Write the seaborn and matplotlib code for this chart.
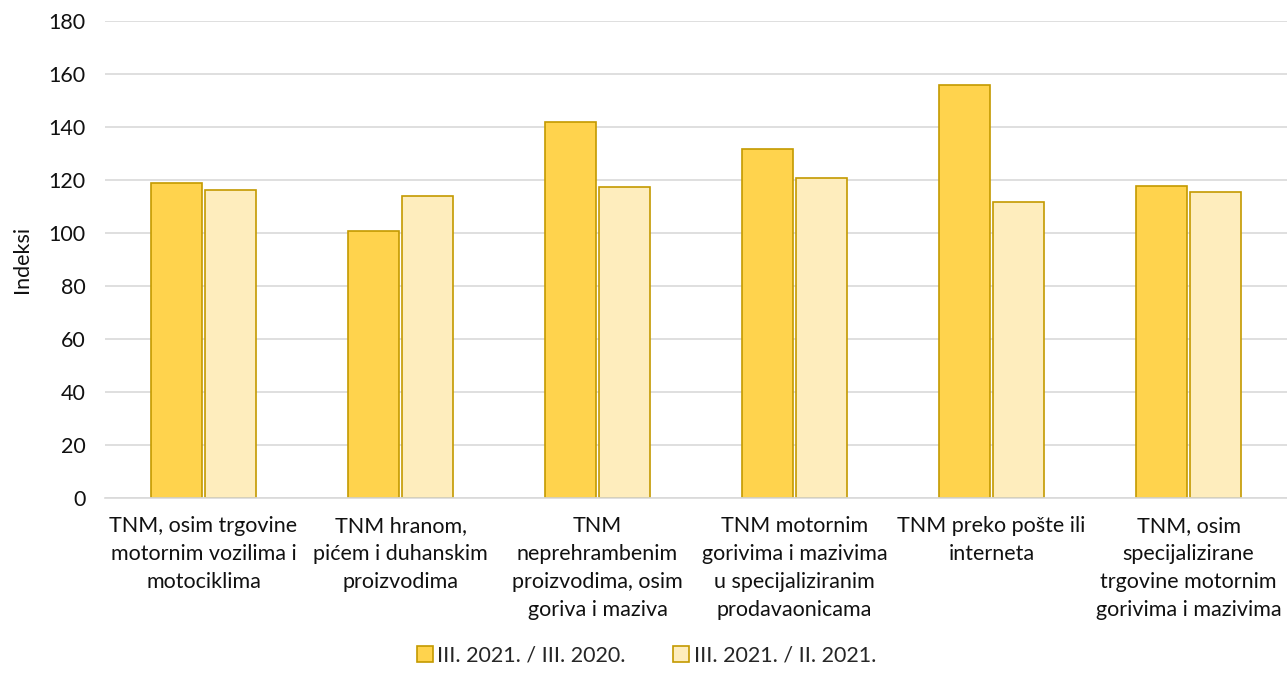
import matplotlib
matplotlib.use("Agg")
import matplotlib.pyplot as plt
import seaborn as sns
import pandas as pd

categories = [
    "TNM, osim trgovine\nmotornim vozilima i\nmotociklima",
    "TNM hranom,\npićem i duhanskim\nproizvodima",
    "TNM\nneprehrambenim\nproizvodima, osim\ngoriva i maziva",
    "TNM motornim\ngorivima i mazivima\nu specijaliziranim\nprodavaonicama",
    "TNM preko pošte ili\ninterneta",
    "TNM, osim\nspecijalizirane\ntrgovine motornim\ngorivima i mazivima",
]
series_names = ["III. 2021. / III. 2020.", "III. 2021. / II. 2021."]
vals_yoy = [119.0, 100.9, 141.9, 131.8, 155.7, 117.6]
vals_mom = [116.1, 114.0, 117.4, 120.9, 111.7, 115.6]

df = pd.DataFrame({
    "kat": categories * 2,
    "serija": [series_names[0]] * 6 + [series_names[1]] * 6,
    "indeks": vals_yoy + vals_mom,
})

sns.set_style("white")
plt.rcParams["font.family"] = ["Lato", "DejaVu Sans"]

fig = plt.figure(figsize=(12.87, 6.81), dpi=100)
ax = fig.add_axes([0.0816, 0.2687, 0.9184, 0.7003])

palette = {series_names[0]: "#FFD34D", series_names[1]: "#FEEDBD"}
sns.barplot(data=df, x="kat", y="indeks", hue="serija", palette=palette,
            width=0.54, gap=0.04, edgecolor="#C49A00", linewidth=1.2,
            saturation=1, ax=ax)

ax.set_ylim(0, 180)
ax.set_yticks(range(0, 181, 20))
ax.set_xlim(-0.5, 5.5)
ax.yaxis.grid(True, color="#D9D9D9", linewidth=1.2)
ax.set_axisbelow(True)
for s in ["top", "right", "left"]:
    ax.spines[s].set_visible(False)
ax.spines["bottom"].set_color("#D9D9D9")
ax.spines["bottom"].set_linewidth(1.2)
ax.tick_params(axis="both", length=0, labelsize=15.5, colors="#111111")
ax.tick_params(axis="y", pad=14)
ax.tick_params(axis="x", pad=13)
ax.set_xlabel("")
ax.set_ylabel("Indeksi", fontsize=15.5, color="#111111", labelpad=12)
for lbl in ax.get_xticklabels():
    lbl.set_linespacing(1.5)

ax.legend(loc="center", bbox_to_anchor=(0.458, -0.33), ncol=2,
          frameon=False, fontsize=15.5, handlelength=0.75, handleheight=0.75,
          handletextpad=0.2, columnspacing=2.2)

fig.savefig("out.png", dpi=100)
